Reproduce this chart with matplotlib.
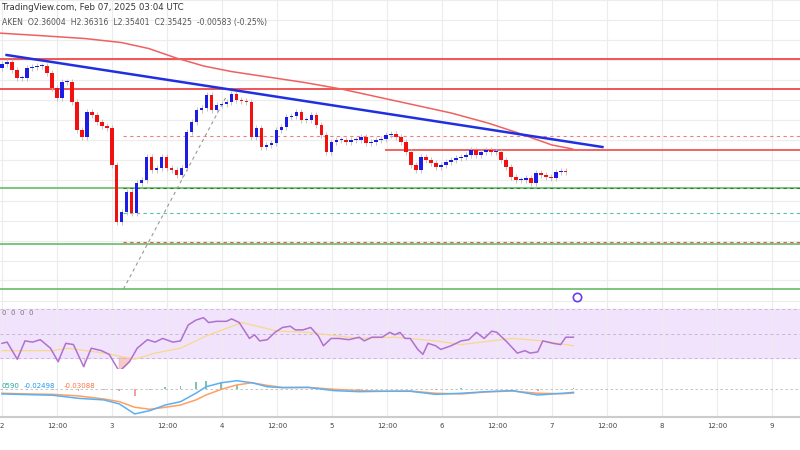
import numpy as np
import matplotlib
matplotlib.use("Agg")
import matplotlib.pyplot as plt

# hourly closes (price)
closes = [2.786, 2.794, 2.762, 2.730, 2.730, 2.770, 2.774, 2.778, 2.778, 2.750,
          2.690, 2.650, 2.714, 2.714, 2.634, 2.522, 2.494, 2.594, 2.582, 2.554,
          2.538, 2.530, 2.382, 2.154, 2.194, 2.274, 2.190, 2.310, 2.322, 2.414,
          2.362, 2.370, 2.414, 2.370, 2.362, 2.342, 2.370, 2.514, 2.554, 2.602,
          2.610, 2.662, 2.602, 2.622, 2.626, 2.634, 2.666, 2.642, 2.638, 2.634,
          2.494, 2.530, 2.454, 2.462, 2.470, 2.522, 2.534, 2.574, 2.578, 2.594,
          2.562, 2.562, 2.582, 2.542, 2.502, 2.434, 2.474, 2.482, 2.482, 2.474,
          2.482, 2.482, 2.494, 2.470, 2.474, 2.482, 2.486, 2.502, 2.506, 2.494,
          2.474, 2.434, 2.382, 2.362, 2.414, 2.402, 2.390, 2.374, 2.382, 2.394,
          2.402, 2.410, 2.414, 2.422, 2.442, 2.422, 2.434, 2.442, 2.434, 2.434,
          2.402, 2.374, 2.334, 2.322, 2.322, 2.330, 2.310, 2.350, 2.342, 2.334,
          2.330, 2.354, 2.358, 2.354]
first_open = 2.770
last_hour = 123.0

# moving average on price panel (hour, price)
ma_hours = [-1, 8, 18, 26, 32, 38, 44, 50, 58, 66, 74, 82, 90, 98, 106, 112, 116, 120, 124.5]
ma_vals = [2.910, 2.900, 2.888, 2.872, 2.848, 2.810, 2.778, 2.756, 2.734, 2.712, 2.686,
           2.654, 2.622, 2.590, 2.550, 2.514, 2.488, 2.462, 2.446]

# support / resistance levels
red_levels = [2.806, 2.686]
green_levels = [2.290, 2.066, 1.886]
short_red = 2.442
dashed_levels = [(2.498, "#f08080"), (2.290, "#2e7d32"), (2.190, "#4fc3b0"), (2.074, "#ef5350")]
trend_pts = ([1, 131], [2.822, 2.454])
fib_pts = ([26.5, 49], [1.886, 2.658])

# RSI (pixel x in the 2x crop, value)
rsi_x = [0, 10, 30, 45, 60, 75, 95, 110, 125, 140, 160, 175, 195, 210, 230, 250, 265, 285,
         300, 315, 335, 350, 365, 380, 395, 405, 420, 440, 450, 465, 485, 495, 505, 520, 535,
         550, 565, 575, 590, 605, 620, 630, 645, 660, 680, 690, 700, 710, 725, 745, 760, 770,
         780, 790, 800, 815, 825, 835, 850, 860, 880, 900, 915, 930, 945, 960, 970, 990, 1010,
         1025, 1035, 1050, 1060, 1080, 1095, 1105, 1120]
rsi_v = [42, 43, 29, 44, 43, 45, 38, 27, 42, 41, 23, 38, 36, 33, 19, 27, 38, 45,
         43, 46, 43, 44, 57, 61, 63, 59, 60, 60, 62, 59, 46, 49, 44, 45, 51,
         55, 56, 53, 53, 55, 48, 40, 46, 46, 45, 46, 47, 44, 47, 47, 51, 49,
         51, 46, 46, 37, 33, 42, 40, 37, 40, 44, 45, 51, 46, 52, 51, 43, 34,
         36, 34, 35, 44, 42, 41, 47, 47]
rsi_ma_x = [0, 100, 130, 200, 260, 300, 350, 400, 470, 540, 600, 700, 770, 850, 900, 1000, 1060, 1120]
rsi_ma_v = [36, 36, 38, 34, 29, 34, 38, 48, 59, 52, 51, 46, 47, 44, 41, 46, 44, 40]

# MACD lines
macd_x = [0, 50, 100, 150, 200, 230, 260, 290, 320, 350, 380, 400, 430, 460, 490, 520, 550,
          600, 650, 700, 750, 800, 850, 900, 950, 1000, 1050, 1100, 1120]
macd_v = [-0.037, -0.042, -0.047, -0.070, -0.082, -0.112, -0.187, -0.162, -0.120, -0.095,
          -0.032, 0.017, 0.047, 0.062, 0.047, 0.017, 0.010, 0.012, -0.012, -0.020, -0.017,
          -0.017, -0.040, -0.032, -0.020, -0.012, -0.045, -0.032, -0.025]
signal_v = [-0.032, -0.037, -0.040, -0.052, -0.075, -0.095, -0.137, -0.152, -0.137, -0.120,
            -0.082, -0.045, -0.002, 0.030, 0.047, 0.027, 0.012, 0.012, -0.002, -0.012, -0.017,
            -0.015, -0.032, -0.037, -0.022, -0.015, -0.032, -0.035, -0.031]

day_ticks = [0, 12, 24, 36, 48, 60, 72, 84, 96, 108, 120, 132, 144, 156, 168]
day_labels = ["2", "12:00", "3", "12:00", "4", "12:00", "5", "12:00", "6", "12:00",
              "7", "12:00", "8", "12:00", "9"]

PX_H = 55 / 12.0          # pixels per hour
CROP = 1.96               # x scale of the crop the indicator points were read from
XL = (-2 / PX_H, 798 / PX_H)
W, H = 800, 450
GRID = "#ececec"

fig = plt.figure(figsize=(8, 4.5), dpi=100)


def add_ax(top, bottom):
    ax = fig.add_axes([0, 1 - bottom / H, 1, (bottom - top) / H])
    ax.set_xlim(*XL)
    ax.set_xticks(day_ticks)
    ax.tick_params(length=0, labelbottom=False, labelleft=False)
    ax.grid(True, color=GRID, lw=0.8)
    for s in ax.spines.values():
        s.set_visible(False)
    ax.set_axisbelow(True)
    return ax


# ---------- price panel ----------
ax = add_ax(0, 303)
ax.set_ylim(3.042 - 0.004 * 303, 3.042)
ax.set_yticks(np.arange(1.84, 3.05, 0.08))

n = len(closes)
step = last_hour / (n - 1)
hours = np.arange(n) * step
opens = [first_open] + closes[:-1]
for h, o, c in zip(hours, opens, closes):
    col = "#1c1ce6" if c >= o else "#f21010"
    lo, hi = min(o, c), max(o, c)
    ax.vlines(h, lo - 0.012, hi + 0.012, color="#bbbbbb", lw=0.6, zorder=2)
    ax.bar(h, max(hi - lo, 0.004), bottom=lo, width=0.7 * step, color=col, zorder=3)

for lv in red_levels:
    ax.axhline(lv, color="#f04848", lw=1.3, zorder=1)
for lv in green_levels:
    ax.axhline(lv, color="#66bb6a", lw=1.2, zorder=1)
for lv, col in dashed_levels:
    ax.hlines(lv, 26.5, XL[1], color=col, lw=0.8, ls=(0, (3, 3)), zorder=1)
ax.hlines(short_red, 83.5, XL[1], color="#f04848", lw=1.2, zorder=1)
ax.plot(ma_hours, ma_vals, color="#f06060", lw=1.1, zorder=4)
ax.plot(*trend_pts, color="#2030e0", lw=1.8, zorder=5)
ax.plot(*fib_pts, color="#999999", lw=0.8, ls=(0, (3, 3)), zorder=1)
ax.plot([125.4], [1.856], marker="o", ms=6, mfc="white", mec="#6a3de8", mew=1.2, zorder=6)

fig.text(0.002, 1 - 8 / H, "TradingView.com, Feb 07, 2025 03:04 UTC", fontsize=6.2,
         color="#333333", va="center")
fig.text(0.002, 1 - 22 / H, "AKEN  O2.36004  H2.36316  L2.35401  C2.35425  -0.00583 (-0.25%)",
         fontsize=5.6, color="#555555", va="center")

# ---------- RSI panel ----------
rx = add_ax(303, 369)
rx.set_ylim(21, 75)
rx.set_yticks([])
rx.axhspan(30, 70, color="#f1e3fb", zorder=0)
for lv in (30, 50, 70):
    rx.axhline(lv, color="#c9b5d8", lw=0.7, ls=(0, (3, 3)))
rsi_h = np.array(rsi_x) / CROP / PX_H
rx.plot(np.array(rsi_ma_x) / CROP / PX_H, rsi_ma_v, color="#f8d98a", lw=0.9)
rx.plot(rsi_h, rsi_v, color="#b070d0", lw=1.1)
rx.fill_between(rsi_h, rsi_v, 30, where=np.array(rsi_v) < 30, color="#f5b5b5", alpha=0.7)
fig.text(0.002, 1 - 313 / H, "0  0  0  0", fontsize=5, color="#777777", va="center")

# ---------- MACD panel ----------
mx = add_ax(369, 417)
mx.set_ylim(-0.21, 0.15)
mx.set_yticks([])
mx.axhline(0, color="#bbbbbb", lw=0.6, ls=(0, (3, 3)))
mh = np.array(macd_x) / CROP / PX_H
hist = np.array(macd_v) - np.array(signal_v)
mx.bar(mh, hist, width=0.4, color=np.where(hist >= 0, "#7cc4b0", "#f4a0a0"))
mx.plot(mh, signal_v, color="#ffa060", lw=1.1)
mx.plot(mh, macd_v, color="#5ab0f5", lw=1.1)
fig.text(0.002, 1 - 386 / H, "0590", fontsize=5, color="#26a69a", va="center")
fig.text(0.030, 1 - 386 / H, "-0.02498", fontsize=5, color="#2196f3", va="center")
fig.text(0.080, 1 - 386 / H, "-0.03088", fontsize=5, color="#ff7043", va="center")

mx.spines["bottom"].set_visible(True)
mx.spines["bottom"].set_color("#cccccc")
mx.spines["bottom"].set_linewidth(1.5)
mx.tick_params(labelbottom=True, labelsize=5, labelcolor="#444444", pad=4)
mx.set_xticklabels(day_labels)

fig.savefig("out.png", dpi=100, facecolor="white")
